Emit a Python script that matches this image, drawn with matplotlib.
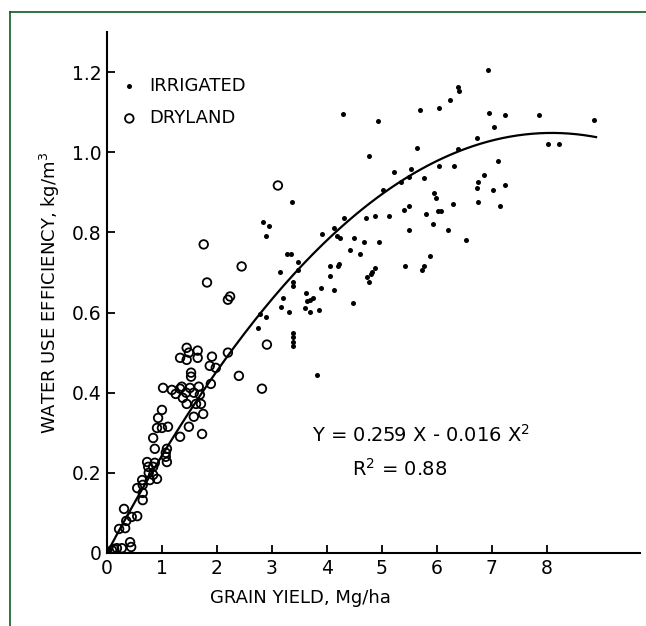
import numpy as np
import matplotlib
matplotlib.use("Agg")
import matplotlib.pyplot as plt
from matplotlib.lines import Line2D

# irrigated (filled dots)
irr_x = [4.29, 4.93, 5.69, 6.05, 4.76, 5.64, 5.22, 5.53, 5.35, 5.49, 5.76, 6.05, 5.02,
         3.36, 4.31, 4.71, 4.87, 5.13, 5.40, 5.49, 5.81, 5.96, 5.98, 6.02, 6.07, 5.93,
         6.20, 5.49, 2.84, 2.95, 2.89, 3.91, 4.13, 4.18, 4.24, 4.49, 4.67, 4.95, 4.42,
         4.60, 3.27, 3.35, 3.47, 3.15, 3.47, 4.05, 4.22, 4.20, 4.05, 4.13, 4.87, 4.82,
         4.80, 4.73, 4.76, 5.42, 5.76, 5.73, 5.87, 3.38, 3.38, 3.89, 3.62, 3.69, 3.75,
         3.64, 4.47, 3.20, 3.16, 2.78, 2.90, 3.31, 3.60, 3.69, 3.85, 2.75, 3.38, 3.38,
         3.38, 3.38,
         6.93, 6.38, 6.40, 6.25, 6.95, 7.24, 7.87, 8.87, 7.04, 6.73, 6.38, 8.02, 8.22,
         7.11, 6.31, 6.87, 6.76, 6.73, 7.02, 7.24, 6.76, 7.16, 6.29, 6.53,
         3.82, 0.02, 0.06]
irr_y = [1.095, 1.078, 1.105, 1.110, 0.990, 1.010, 0.950, 0.957, 0.925, 0.938, 0.935, 0.965, 0.907,
         0.877, 0.837, 0.835, 0.842, 0.842, 0.857, 0.865, 0.847, 0.898, 0.887, 0.853, 0.853, 0.822,
         0.805, 0.807, 0.827, 0.815, 0.790, 0.797, 0.812, 0.792, 0.785, 0.785, 0.775, 0.775, 0.757,
         0.747, 0.747, 0.745, 0.727, 0.702, 0.705, 0.717, 0.722, 0.715, 0.692, 0.655, 0.712, 0.700,
         0.695, 0.688, 0.675, 0.715, 0.717, 0.707, 0.740, 0.675, 0.665, 0.660, 0.650, 0.632, 0.637,
         0.630, 0.625, 0.637, 0.615, 0.597, 0.590, 0.602, 0.612, 0.602, 0.607, 0.562, 0.550, 0.540,
         0.527, 0.517,
         1.205, 1.162, 1.152, 1.130, 1.098, 1.093, 1.093, 1.080, 1.063, 1.035, 1.007, 1.020, 1.020,
         0.977, 0.965, 0.942, 0.925, 0.910, 0.905, 0.917, 0.875, 0.867, 0.870, 0.780,
         0.445, 0.005, 0.010]

# dryland (open circles)
dry_x = [1.82, 1.76, 2.45, 3.11, 2.20, 2.24, 2.91, 2.82, 2.40, 2.20,
         1.45, 1.49, 1.65, 1.33, 1.45, 1.65, 1.91, 1.87, 1.98, 1.53, 1.53,
         1.02, 1.18, 1.25, 1.33, 1.36, 1.44, 1.51, 1.58, 1.67, 1.69,
         1.38, 1.45, 1.62, 1.71, 1.89, 1.75, 1.58, 1.73, 1.49, 1.33,
         1.00, 0.93, 0.91, 1.00, 1.11, 0.84, 0.87, 1.09, 1.07, 1.07, 1.09,
         0.73, 0.75, 0.84, 0.87, 0.76, 0.84, 0.91, 0.78, 0.64, 0.65, 0.65,
         0.55, 0.65, 0.31, 0.55, 0.45, 0.35, 0.33, 0.22, 0.42, 0.44,
         0.27, 0.18, 0.13, 0.09]
dry_y = [0.675, 0.770, 0.715, 0.917, 0.632, 0.640, 0.520, 0.410, 0.442, 0.500,
         0.512, 0.500, 0.505, 0.487, 0.482, 0.487, 0.490, 0.467, 0.462, 0.450, 0.440,
         0.412, 0.407, 0.397, 0.410, 0.415, 0.400, 0.412, 0.400, 0.415, 0.395,
         0.387, 0.372, 0.372, 0.372, 0.422, 0.347, 0.340, 0.297, 0.315, 0.290,
         0.357, 0.337, 0.312, 0.312, 0.315, 0.287, 0.260, 0.260, 0.250, 0.240, 0.227,
         0.227, 0.215, 0.215, 0.225, 0.200, 0.195, 0.185, 0.182, 0.182, 0.170, 0.150,
         0.162, 0.132, 0.110, 0.092, 0.090, 0.080, 0.062, 0.060, 0.027, 0.015,
         0.012, 0.012, 0.010, 0.007]

# fitted curve Y = 0.259 X - 0.016 X^2
b1, b2 = 0.259, -0.016
x_fit_max = 8.9

x_ticks = [0, 1, 2, 3, 4, 5, 6, 7, 8]
x_tick_labels = ["0", "1", "2", "3", "4", "5", "6", "7", "8"]
y_ticks = [0, 0.2, 0.4, 0.6, 0.8, 1.0, 1.2]
y_tick_labels = ["0", "0.2", "0.4", "0.6", "0.8", "1.0", "1.2"]

W, H = 646, 626
fig = plt.figure(figsize=(W / 100, H / 100), dpi=100)
fig.patch.set_facecolor("white")

# green frame (only top and left edges visible in the crop)
green = "#0b5d1e"
fig.add_artist(Line2D([10 / W, 10 / W], [0, 1 - 12 / H], color=green, lw=1.2, transform=fig.transFigure))
fig.add_artist(Line2D([10 / W, 1], [1 - 12 / H, 1 - 12 / H], color=green, lw=1.2, transform=fig.transFigure))

left, right = 107 / W, 640 / W
bottom, top = (H - 553) / H, (H - 32) / H
ax = fig.add_axes([left, bottom, right - left, top - bottom])

ax.scatter(irr_x, irr_y, s=13, color="black", marker="o", linewidths=0, label="IRRIGATED", zorder=3)
ax.scatter(dry_x, dry_y, s=38, facecolors="none", edgecolors="black", linewidths=1.3,
           label="DRYLAND", zorder=3)

xf = np.linspace(0, x_fit_max, 200)
ax.plot(xf, b1 * xf + b2 * xf ** 2, color="black", lw=1.6, zorder=2)

ax.set_xlim(0, 9.7)
ax.set_ylim(0, 1.3)
ax.spines["top"].set_visible(False)
ax.spines["right"].set_visible(False)
for s in ("left", "bottom"):
    ax.spines[s].set_linewidth(1.5)

ax.set_xticks(x_ticks)
ax.set_xticklabels(x_tick_labels)
ax.set_yticks(y_ticks)
ax.set_yticklabels(y_tick_labels)
ax.tick_params(direction="in", length=6, width=1.3, labelsize=13.5, pad=4)

ax.set_xlabel("GRAIN YIELD, Mg/ha", fontsize=13)
ax.xaxis.set_label_coords((300 - 107) / 533, -0.07)
ax.set_ylabel("WATER USE EFFICIENCY, kg/m$^3$", fontsize=13)
ax.yaxis.set_label_coords(-0.085, 0.5)

ax.legend(loc="upper left", bbox_to_anchor=(0.008, 0.928), frameon=False, fontsize=13,
          handletextpad=0.5, labelspacing=0.8, borderaxespad=0, handlelength=1.2)

ax.text(3.73, 0.2775, "Y = 0.259 X - 0.016 X$^2$", fontsize=14, ha="left", va="baseline")
ax.text(4.45, 0.1925, "R$^2$ = 0.88", fontsize=14, ha="left", va="baseline")

fig.savefig("out.png", dpi=100)
